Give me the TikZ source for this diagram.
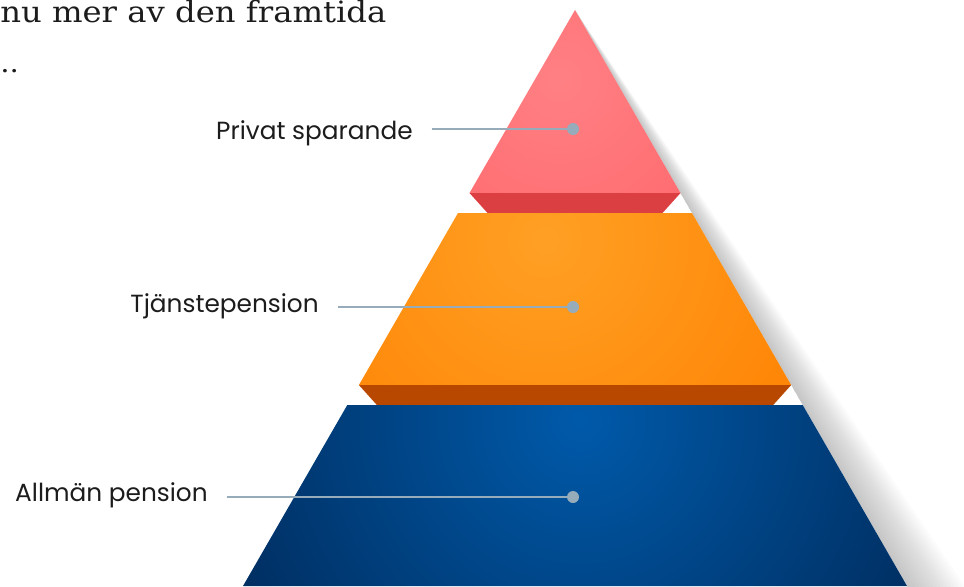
\documentclass[tikz,border=0pt]{standalone}
\usepackage{fontspec}
\setmainfont{Poppins}
\newfontfamily\slabfont[FakeStretch=1.1]{DejaVu Serif}
\usetikzlibrary{calc}
\definecolor{redhi}{HTML}{FF8084}
\definecolor{redlo}{HTML}{FF5A5E}
\definecolor{redbev}{HTML}{DC3F41}
\definecolor{orahi}{HTML}{FFA024}
\definecolor{oralo}{HTML}{FF8000}
\definecolor{orabev}{HTML}{B84700}
\definecolor{bluhi}{HTML}{005AAA}
\definecolor{blulo}{HTML}{001E46}
\definecolor{linec}{HTML}{97ACBB}
\definecolor{txt}{HTML}{1C1C1C}
\tikzset{
  lbl/.style={inner sep=0pt, text=txt, font=\fontsize{18.6pt}{22pt}\selectfont, anchor=base east},
  dotc/.style={circle, fill=linec, inner sep=0pt, minimum size=9pt},
  leader/.style={draw=linec, line width=1.8pt, shorten <=14pt},
}
\begin{document}
\begin{tikzpicture}[x=0.75pt,y=-0.75pt]
\useasboundingbox (0,0) rectangle (964,586);
\clip (0,0) rectangle (964,586);
% paragraph fragment
\node[inner sep=0pt, anchor=base west, text=txt, font=\slabfont\fontsize{22pt}{26pt}\selectfont] (para1) at (0,22) {nu mer av den framtida};
\node[inner sep=0pt, anchor=base west, text=txt, font=\slabfont\fontsize{20pt}{24pt}\selectfont] (para2) at (0,72) {..};
% shadow
\foreach \k in {1,...,16} {
  \fill[black, opacity=0.016] (575,10) -- (944,650) -- ({944+4*\k},650) -- cycle;
}
% top (red)
\begin{scope}
  \clip (575,10) -- (680.5,193) -- (469.5,193) -- cycle;
  \shade[inner color=redhi, outer color=redlo] (560,80) circle (330);
\end{scope}
\fill[redbev] (469.5,193) -- (680.5,193) -- (662.5,213) -- (487.5,213) -- cycle;
% middle (orange)
\begin{scope}
  \clip (458,213) -- (692,213) -- (791.2,385) -- (358.9,385) -- cycle;
  \shade[inner color=orahi, outer color=oralo] (545,240) circle (340);
\end{scope}
\fill[orabev] (358.9,385) -- (791.2,385) -- (773.2,405) -- (376.9,405) -- cycle;
% bottom (blue)
\begin{scope}
  \clip (347.3,405) -- (802.7,405) -- (907,586) -- (243,586) -- cycle;
  \shade[inner color=bluhi, outer color=blulo] (580,420) circle (520);
\end{scope}
% labels
\node[dotc] (d1) at (573,129) {};
\node[dotc] (d2) at (573,307) {};
\node[dotc] (d3) at (573,497) {};
\node[lbl] (t1) at (413,139) {Privat sparande};
\node[lbl] (t2) at (319,312) {Tjänstepension};
\node[lbl] (t3) at (208,501) {Allmän pension};
\draw[leader] (t1.east |- d1) -- (d1.center);
\draw[leader] (t2.east |- d2) -- (d2.center);
\draw[leader] (t3.east |- d3) -- (d3.center);
\end{tikzpicture}
\end{document}
